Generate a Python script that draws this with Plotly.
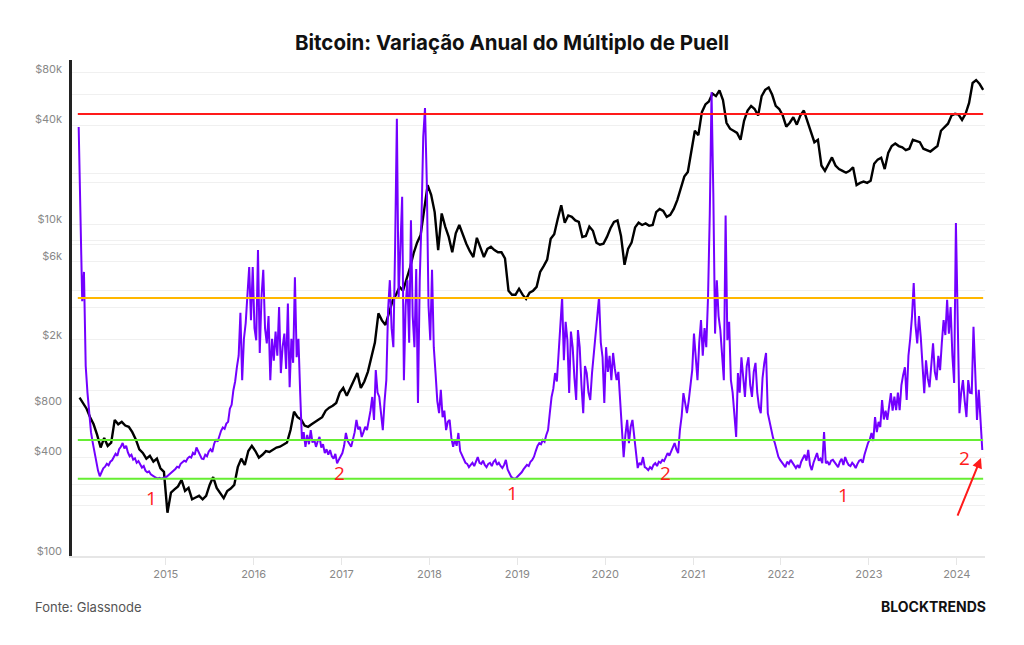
import numpy as np
import plotly.graph_objects as go

# ---------------- data ----------------
# BTC price (USD), sampled every 0.04 year starting 2014.02
price_start, price_step = 2014.02, 0.04
price_usd = [
    840, 780, 720, 640, 580, 500, 420, 480, 430, 450, 616, 580, 600, 570, 560, 520, 470, 410, 390, 360, 375, 345, 360, 315, 300,
    170, 225, 235, 245, 268, 230, 240, 205, 210, 215, 205, 215, 250, 279, 240, 225, 208, 230, 238, 250, 320, 360, 330, 400, 430,
    400, 365, 380, 400, 395, 410, 420, 425, 440, 450, 535, 690, 640, 620, 570, 560, 580, 600, 620, 640, 700, 730, 750, 780, 900,
    960, 860, 950, 1050, 1180, 960, 1050, 1200, 1450, 1800, 2700, 2450, 2300, 2700, 3200, 3500, 3900, 3700, 4300, 5100, 6200, 7200, 8000, 11000, 16000,
    14000, 11000, 6500, 10800, 9000, 7800, 6300, 8200, 9200, 8000, 7100, 6400, 5900, 7700, 6800, 5900, 6600, 6800, 6500, 6300, 6300, 5800, 3700, 3500, 3500,
    3800, 3500, 3300, 3600, 3700, 3900, 4800, 5200, 5700, 7600, 8100, 10000, 12100, 9500, 10500, 10300, 9800, 9600, 7800, 7900, 9000, 8500, 7200, 7000, 7100,
    7800, 8800, 9600, 9800, 7900, 5300, 6600, 7200, 8900, 9500, 9200, 9400, 9100, 9200, 11000, 11500, 11200, 10300, 10600, 11500, 13000, 15500, 18000, 19200, 26000,
    34000, 32000, 44000, 49000, 51000, 57000, 55000, 59500, 52000, 38000, 35000, 34000, 33000, 30000, 39000, 45000, 48000, 46000, 42000, 55000, 60000, 62000, 56000, 48000, 46000,
    42000, 36000, 38000, 41000, 37000, 42000, 45000, 39000, 34000, 29000, 30000, 21000, 19500, 21500, 23500, 21000, 20000, 19500, 19000, 19500, 20500, 16000, 16500, 16800, 16500,
    17000, 21500, 22800, 23400, 20000, 25000, 27500, 28500, 27500, 27000, 26000, 26500, 30000, 29500, 29000, 26500, 26000, 25500, 26500, 27500, 34000, 35500, 37500, 42000, 43000,
    42500, 39500, 43000, 50000, 66000, 68700, 65000, 60000,
]

# Puell multiple annual variation (plotted on its own hidden log axis), every 0.02 year from 2014.01
puell_start, puell_step = 2014.01, 0.02
puell_v = [
    35800, 11000, 3200, 4800, 1300, 900, 640, 520, 450, 390, 345, 305, 282, 300, 315, 322, 335, 328, 345, 352,
    370, 385, 375, 410, 425, 447, 415, 430, 392, 372, 380, 355, 362, 340, 348, 330, 318, 325, 305, 298,
    302, 290, 284, 280, 276, 274, 276, 273, 275, 278,
    280, 286, 292, 298, 305, 312, 322, 318, 335, 342, 350, 345, 362, 370, 365, 390, 380, 420, 400, 375,
    360, 358, 380, 372, 398, 410, 395, 440, 470, 455, 500, 530, 555, 545, 585, 600, 720, 760, 930, 1050,
    1280, 1500, 2720, 1070, 1900, 2360, 3500, 5140, 2460, 5140,
    2200, 1860, 6500, 1560, 3400, 4940, 2200, 1780, 2600, 1070, 1900, 1400, 2100, 1500, 2950, 1180, 1700, 2040, 1250, 3100,
    970, 1900, 1360, 4460, 1470, 1900, 894, 466, 520, 424, 500, 440, 535, 450, 470, 424, 460, 486, 420, 440,
    389, 410, 380, 406, 372, 360, 385, 338, 355, 370,
    389, 430, 514, 460, 440, 424, 470, 520, 616, 540, 560, 486, 520, 560, 535, 600, 700, 847, 616, 1230,
    900, 847, 700, 535, 800, 1070, 2830, 4280, 2200, 1690, 6800, 40200, 3380, 6000, 13600, 1070, 3000, 4280, 1800, 9840,
    2600, 1690, 5000, 780, 4280, 9840, 31300, 46600, 17100, 3000,
    1860, 4940, 1690, 1180, 800, 677, 935, 640, 700, 535, 600, 616, 480, 424, 470, 430, 514, 400, 380, 354,
    340, 335, 320, 330, 340, 325, 345, 368, 340, 335, 350, 330, 320, 335, 340, 325, 345, 354, 330, 340,
    325, 316, 330, 354, 310, 295, 280, 275, 272, 276,
    282, 290, 298, 310, 320, 330, 325, 345, 354, 370, 400, 430, 447, 440, 466, 455, 500, 535, 680, 847,
    950, 1180, 1050, 1560, 2200, 3380, 1410, 2400, 1860, 894, 2100, 1690, 1100, 812, 2140, 1690, 1000, 677, 1300, 1180,
    900, 812, 1180, 1500, 2000, 2570, 3380, 1800, 1470, 780,
    1690, 1200, 1500, 1070, 1560, 1250, 1070, 1200, 847, 600, 368, 500, 616, 447, 560, 616, 500, 424, 316, 340,
    330, 368, 320, 315, 307, 320, 312, 330, 338, 325, 345, 340, 354, 348, 370, 389, 375, 400, 420, 447,
    410, 389, 535, 650, 894, 760, 677, 800, 1000, 1230,
    2040, 1400, 1070, 1800, 2460, 1500, 2200, 1690, 3380, 10800, 58000, 14400, 2040, 4280, 2600, 2140, 1500, 1070, 10500, 1860,
    2400, 1070, 900, 677, 486, 1180, 900, 1470, 1100, 847, 1300, 1470, 1000, 847, 1200, 1360, 900, 737, 677, 1100,
    1360, 1560, 677, 600, 558, 480, 447, 400, 370, 354,
    340, 330, 320, 345, 335, 354, 340, 325, 316, 330, 316, 345, 360, 380, 350, 406, 330, 307, 340, 370,
    389, 350, 360, 338, 521, 338, 345, 330, 350, 354, 340, 330, 320, 345, 360, 330, 368, 345, 330, 325,
    340, 330, 316, 335, 350, 354, 340, 380, 420, 447,
    470, 514, 460, 641, 520, 600, 558, 812, 620, 700, 616, 780, 894, 700, 850, 705, 900, 705, 1000, 1150,
    1280, 812, 1500, 1900, 2570, 4110, 2300, 1780, 2600, 1950, 1200, 894, 1410, 1100, 970, 1400, 1780, 1200, 1070, 1500,
    1230, 1800, 2460, 2000, 3260, 2040, 2950, 1500, 1030, 9460,
    2040, 677, 900, 1070, 800, 641, 1070, 900, 894, 2240, 1200, 616, 935, 590, 406,
]

level_names = ["red", "orange", "green_high", "green_low"]
level_values = [42900, 3340, 466, 272]
level_colors = ["#ff1a1a", "#ffb700", "#66ee33", "#66ee33"]
level_span = [2014.0, 2024.30]

y_tick_vals = [100, 400, 800, 2000, 6000, 10000, 40000, 80000]
y_tick_text = ["$100", "$400", "$800", "$2k", "$6k", "$10k", "$40k", "$80k"]
grid_vals = [92, 187, 217, 250, 368, 551, 747, 933, 1250, 1870, 2950, 3730,
             5580, 7060, 7470, 9330, 16700, 18900, 36800, 56600, 75900]
x_tick_vals = [2015, 2016, 2017, 2018, 2019, 2020, 2021, 2022, 2023, 2024]
x_tick_text = [str(v) for v in x_tick_vals]

markers_text = ["1", "2", "1", "2", "1", "2"]
markers_x = [2014.844, 2016.982, 2018.951, 2020.681, 2022.706, 2024.093]
markers_y = [208, 295, 223, 295, 217, 363]

price_t = np.round(price_start + price_step * np.arange(len(price_usd)), 3)
puell_t = np.round(puell_start + puell_step * np.arange(len(puell_v)), 3)

# ---------------- figure ----------------
YR = [1.9699, 4.9578]
XR = [2013.934, 2024.321]

fig = go.Figure()

fig.add_trace(go.Scatter(x=price_t, y=price_usd, mode="lines", name="Preço BTC",
                         line=dict(color="#000000", width=2.4), yaxis="y"))
fig.add_trace(go.Scatter(x=puell_t, y=puell_v, mode="lines", name="Puell",
                         line=dict(color="#7300ff", width=2.0), yaxis="y2"))
for name, val, col in zip(level_names, level_values, level_colors):
    fig.add_trace(go.Scatter(x=level_span, y=[val, val], mode="lines", name=name,
                             line=dict(color=col, width=2), yaxis="y2", hoverinfo="skip"))

annotations = []
for t, xv, yv in zip(markers_text, markers_x, markers_y):
    annotations.append(dict(x=xv, y=np.log10(yv), xref="x", yref="y", text=t, showarrow=False,
                            font=dict(family="Open Sans", size=19, color="#ff1a1a")))
annotations.append(dict(x=2024.275, y=np.log10(363), xref="x", yref="y", ax=-24, ay=59,
                        showarrow=True, arrowhead=2, arrowsize=1, arrowwidth=2,
                        arrowcolor="#ff1a1a", text=""))
annotations.append(dict(x=-0.0427, y=-0.1028, xref="paper", yref="paper", xanchor="left",
                        yanchor="middle", showarrow=False, text="Fonte: Glassnode",
                        font=dict(family="Inter", size=13, color="#555555")))
annotations.append(dict(x=1.0033, y=-0.1028, xref="paper", yref="paper", xanchor="right",
                        yanchor="middle", showarrow=False, text="<b>BLOCKTRENDS</b>",
                        font=dict(family="Inter", size=14, color="#111111")))

fig.update_layout(
    width=1024, height=645,
    margin=dict(l=72, r=39, t=60, b=89),
    paper_bgcolor="white", plot_bgcolor="white",
    showlegend=False,
    title=dict(text="<b>Bitcoin: Variação Anual do Múltiplo de Puell</b>",
               x=0.5, xref="container", y=1 - 43 / 645, yref="container",
               xanchor="center", yanchor="middle",
               font=dict(family="Inter", size=20.5, color="#111111")),
    xaxis=dict(range=XR, tickvals=x_tick_vals, ticktext=x_tick_text, showgrid=False,
               zeroline=False, showline=True, linecolor="#e6e6e6", linewidth=1.5,
               ticks="outside", ticklen=7, tickcolor="#e6e6e6",
               tickfont=dict(family="Inter", size=11, color="#888888")),
    yaxis=dict(type="log", range=YR, tickvals=y_tick_vals, ticktext=y_tick_text,
               showgrid=False, zeroline=False, showline=True, linecolor="#222222",
               linewidth=2.5, ticks="", ticklabelstandoff=5,
               tickfont=dict(family="Inter", size=11, color="#888888")),
    yaxis2=dict(type="log", range=YR, overlaying="y", side="left", tickvals=grid_vals,
                showticklabels=False, showgrid=True, gridcolor="#f0f0f0", gridwidth=1,
                zeroline=False, showline=False, ticks=""),
    annotations=annotations,
)

fig.write_html("out.html")
